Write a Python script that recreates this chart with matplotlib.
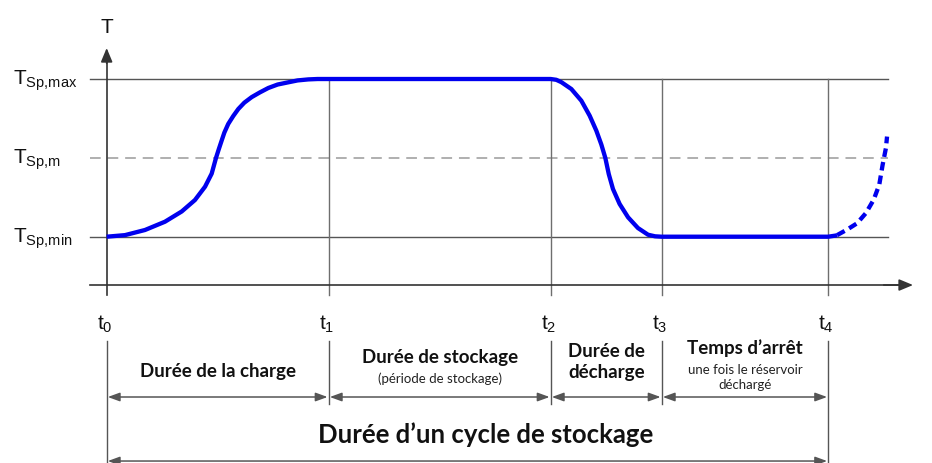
import numpy as np
import matplotlib
matplotlib.use('Agg')
import matplotlib.pyplot as plt

plt.rcParams['font.family'] = ['Liberation Sans', 'DejaVu Sans']
plt.rcParams['mathtext.fontset'] = 'custom'
plt.rcParams['mathtext.rm'] = 'Liberation Sans'
plt.rcParams['mathtext.it'] = 'Liberation Sans:italic'

# instants t0..t4 and temperature levels (arbitrary units)
t_marks = [0.0, 2.0, 4.0, 5.0, 6.5]
t_labels = [r't$_{\mathrm{0}}$', r't$_{\mathrm{1}}$', r't$_{\mathrm{2}}$',
            r't$_{\mathrm{3}}$', r't$_{\mathrm{4}}$']
T_levels = [0.0, 1.0, 2.0]
T_labels = [r'T$_{\mathrm{Sp{,}min}}$', r'T$_{\mathrm{Sp{,}m}}$', r'T$_{\mathrm{Sp{,}max}}$']

# storage temperature during charge (t0 -> t1)
charge_t = [0.0, 0.165, 0.345, 0.525, 0.676, 0.795, 0.886, 0.946, 0.985,
            1.01, 1.036, 1.06, 1.095, 1.14, 1.186, 1.24, 1.306, 1.38, 1.456,
            1.54, 1.636, 1.72, 1.816, 1.9, 2.0]
charge_T = [0.0, 0.02, 0.085, 0.19, 0.32, 0.465, 0.634, 0.80, 1.0,
            1.11, 1.22, 1.32, 1.43, 1.53, 1.62, 1.70, 1.77, 1.83, 1.886,
            1.93, 1.958, 1.982, 1.995, 2.0, 2.0]
# discharge (t2 -> t3)
discharge_t = [4.0, 4.05, 4.096, 4.186, 4.276, 4.351, 4.411, 4.456, 4.492,
               4.523, 4.561, 4.621, 4.697, 4.786, 4.877, 4.94, 5.0]
discharge_T = [2.0, 1.99, 1.96, 1.873, 1.725, 1.535, 1.345, 1.17, 1.0,
               0.795, 0.605, 0.415, 0.246, 0.11, 0.025, 0.005, 0.0]
# next charge after t4 (dashed)
recharge_t = [6.5, 6.57, 6.58, 6.67, 6.76, 6.84, 6.91, 6.96, 6.99, 7.02, 7.03]
recharge_T = [0.0, 0.015, 0.02, 0.09, 0.17, 0.30, 0.47, 0.66, 0.91, 1.125, 1.27]

# phase captions
phases = ['Durée de la charge', 'Durée de stockage', 'Durée de\ndécharge', "Temps d’arrêt"]
phase_notes = ['', '(période de stockage)', '', 'une fois le réservoir\ndéchargé']
cycle_label = 'Durée d’un cycle de stockage'

fig = plt.figure(figsize=(9.32, 4.63), dpi=100)
ax = fig.add_axes([0, 0, 1, 1])
ax.set_xlim(-0.961, 7.435)
ax.set_ylim(-2.870, 3.002)
ax.axis('off')

line_c = '#555555'
axis_c = '#333333'
x_axis_y = -0.613
x_right = 7.039

# temperature levels
for lev in T_levels:
    if lev == 1.0:
        ax.plot([-0.15, x_right], [lev, lev], color='#9a9a9a', lw=1.1,
                dashes=(7, 4.5), zorder=1)
    else:
        ax.plot([-0.15, x_right], [lev, lev], color=line_c, lw=1.0, zorder=1)

# vertical lines at t1..t4 in the plot area
for t in t_marks[1:]:
    ax.plot([t, t], [2.0, -0.739], color='#6e6e6e', lw=1.0, zorder=1)

# axes with arrows
ax.plot([0, 0], [-0.739, 2.30], color=axis_c, lw=1.2, zorder=2)
ax.annotate('', xy=(0, 2.393), xytext=(0, 2.2),
            arrowprops=dict(arrowstyle='-|>,head_length=0.6,head_width=0.25',
                            mutation_scale=14, color=axis_c, lw=1.2,
                            shrinkA=0, shrinkB=0))
ax.plot([-0.15, 7.2], [x_axis_y, x_axis_y], color=axis_c, lw=1.2, zorder=2)
ax.annotate('', xy=(7.264, x_axis_y), xytext=(7.0, x_axis_y),
            arrowprops=dict(arrowstyle='-|>,head_length=0.6,head_width=0.25',
                            mutation_scale=14, color=axis_c, lw=1.2,
                            shrinkA=0, shrinkB=0))
ax.text(0.0, 2.583, 'T', fontsize=15, ha='center', va='baseline', color='#111111')

# temperature curve
n_solid = 3
solid_t = np.concatenate([charge_t, discharge_t, recharge_t[:n_solid]])
solid_T = np.concatenate([charge_T, discharge_T, recharge_T[:n_solid]])
ax.plot(solid_t, solid_T, color='#0000ee', lw=3.1, solid_capstyle='butt',
        solid_joinstyle='round', zorder=3)
ax.plot(recharge_t[n_solid - 1:], recharge_T[n_solid - 1:], color='#0000ee', lw=3.1,
        dashes=(2.0, 1.2), dash_capstyle='butt', dash_joinstyle='round', zorder=3)

# level labels
for lev, lab in zip(T_levels, T_labels):
    ax.text(-0.847, lev - 0.076, lab, fontsize=15, ha='left', va='baseline',
            color='#111111')

# time labels and lines below the axis
for i, (t, lab) in enumerate(zip(t_marks, t_labels)):
    ax.text(t - 0.02, -1.183, lab, fontsize=15, ha='center', va='baseline',
            color='#111111')
    bottom = -2.87 if i in (0, len(t_marks) - 1) else -2.123
    ax.plot([t, t], [-1.324, bottom], color='#555555', lw=1.0, zorder=1)

arrow_style = '<|-|>,head_length=0.55,head_width=0.2'
for a, b in zip(t_marks[:-1], t_marks[1:]):
    ax.annotate('', xy=(b - 0.01, -2.033), xytext=(a + 0.01, -2.033),
                arrowprops=dict(arrowstyle=arrow_style, mutation_scale=13,
                                color='#555555', lw=1.1, shrinkA=0, shrinkB=0))
ax.annotate('', xy=(t_marks[-1] - 0.01, -2.845), xytext=(t_marks[0] + 0.01, -2.845),
            arrowprops=dict(arrowstyle=arrow_style, mutation_scale=13,
                            color='#555555', lw=1.1, shrinkA=0, shrinkB=0))

# phase captions
mids = [(a + b) / 2 for a, b in zip(t_marks[:-1], t_marks[1:])]
title_y = [-1.775, -1.602, -1.788, -1.488]
note_y = [None, -1.805, None, -1.615]
note_va = [None, 'center', None, 'top']
for i, (m, title, note) in enumerate(zip(mids, phases, phase_notes)):
    ax.text(m, title_y[i], title, family='Lato', fontweight='bold', fontsize=13.5,
            ha='center', va='baseline', color='#111111', linespacing=1.25)
    if note:
        ax.text(m, note_y[i], note, family='Lato', fontsize=9.5,
                ha='center', va=note_va[i], color='#222222', linespacing=1.3)

ax.text(3.41, -2.62, cycle_label, family='Lato', fontweight='bold', fontsize=18.5,
        ha='center', va='baseline', color='#111111')

fig.savefig('out.png', dpi=100)
